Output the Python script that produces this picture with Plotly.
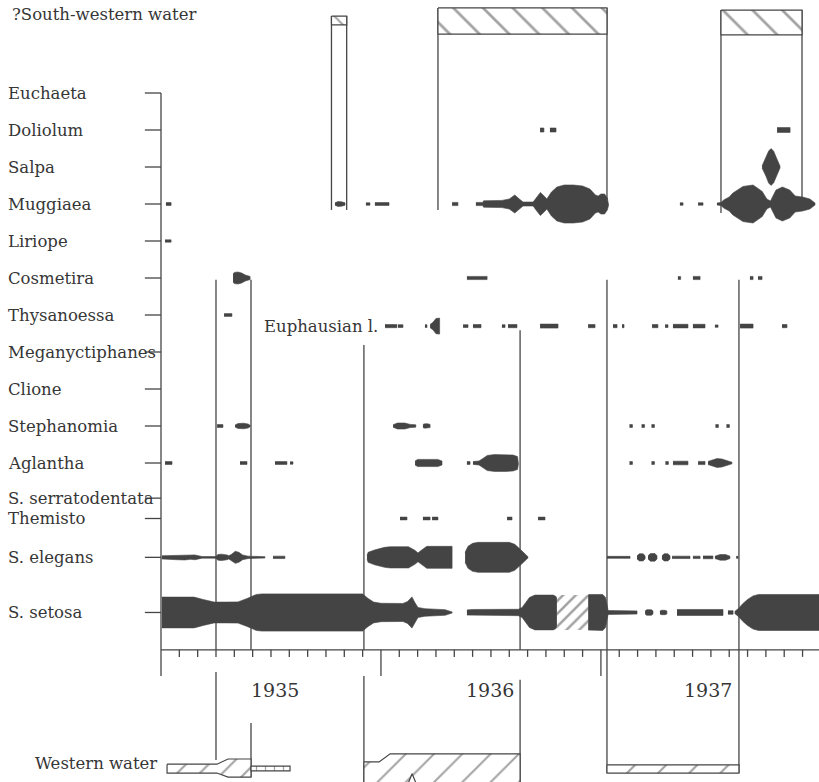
import plotly.graph_objects as go

# ---------------------------------------------------------------------------
# Time runs in months from 1 January 1935; rows are species positions.
# Kite half-widths are relative abundance units.
# ---------------------------------------------------------------------------
YEAR_LABELS = ["1935", "1936", "1937"]
YEAR_STARTS = [0, 12, 24]
MONTH_TICKS = list(range(0, 36))

SPECIES = ["Euchaeta", "Doliolum", "Salpa", "Muggiaea", "Liriope", "Cosmetira",
           "Thysanoessa", "Meganyctiphanes", "Clione", "Stephanomia", "Aglantha",
           "S. serratodentata", "Themisto", "S. elegans", "S. setosa"]
ROWS = [0, 1, 2, 3, 4, 5, 6, 7, 8, 9, 10, 10.95, 11.5, 12.55, 14.04]
EUPH_ROW = 6.3

# water-mass periods (months)
WEST_START = [3.0, 11.07, 24.33]
WEST_END = [4.91, 19.59, 31.53]
SW_START = [9.30, 15.11, 30.55]
SW_END = [10.13, 24.33, 34.97]

# --- abundance kites: time (months) / half-width, None marks a break ---
doliolum_t = [20.68, 20.89, None, 21.22, 21.55, None, 33.61, 34.32]
doliolum_v = [1.0, 1.0, None, 1.0, 1.0, None, 1.2, 1.2]

salpa_t = [32.79, 33.0, 33.15, 33.28, 33.42, 33.58, 33.77]
salpa_v = [0.5, 4.5, 8.0, 9.2, 8.0, 4.5, 0.5]

muggiaea_t = [0.27, 0.55, None, 9.49, 9.65, 9.85, 10.04, None, 11.18, 11.40, None,
              11.67, 12.44, None, 15.88, 16.20, None,
              17.18, 17.55, 17.6, 18.6, 19.0, 19.3, 19.55, 19.75, 20.3, 20.5, 20.7, 20.9,
              21.05, 21.3, 21.6, 22.0, 22.5, 23.0, 23.4, 23.7, 23.85, 24.0, 24.2, 24.35,
              24.42, None, 28.31, 28.48, None, 29.30, 29.57, None,
              30.33, 30.55, 30.7, 31.0, 31.2, 31.75, 32.3, 32.8, 33.05, 33.25, 33.55,
              33.9, 34.3, 34.6, 35.0, 35.4, 35.68]
muggiaea_v = [0.7, 0.7, None, 0.6, 1.2, 1.1, 0.6, None, 0.6, 0.6, None,
              0.7, 0.7, None, 0.8, 0.8, None,
              0.8, 0.8, 1.6, 1.8, 2.5, 4.5, 2.5, 1.0, 1.0, 3.5, 5.8, 4.0,
              2.5, 6.0, 8.5, 9.5, 9.5, 9.0, 7.5, 4.5, 4.0, 5.0, 5.0, 3.0,
              0.5, None, 0.6, 0.6, None, 0.6, 0.6, None,
              0.5, 0.8, 2.0, 3.5, 5.5, 8.8, 9.5, 6.3, 2.5, 1.5, 7.0,
              8.5, 7.0, 4.0, 3.5, 2.5, 0.5]

liriope_t = [0.22, 0.55]
liriope_v = [0.6, 0.6]

cosmetira_t = [3.93, 4.0, 4.2, 4.4, 4.6, 4.86, None, 16.69, 17.79, None,
               28.2, 28.35, None, 29.02, 29.41, None, 32.13, 32.3, None, 32.57, 32.79]
cosmetira_v = [2.0, 2.8, 3.0, 2.5, 1.5, 0.8, None, 0.8, 0.8, None,
               0.7, 0.7, None, 0.8, 0.8, None, 0.8, 0.8, None, 0.8, 0.8]

thysanoessa_t = [3.44, 3.87]
thysanoessa_v = [0.7, 0.7]

euphausian_t = [12.22, 12.87, None, 12.93, 13.2, None, 14.4, 14.51, None,
                14.68, 14.85, 15.0, 15.2, None, 16.48, 16.75, None, 17.02, 17.46, None,
                18.6, 18.77, None, 18.93, 19.42, None, 20.68, 21.66, None, 23.3, 23.68, None,
                24.66, 24.88, None, 25.15, 25.26, None, 26.79, 27.11, None, 27.5, 27.66, None,
                27.93, 28.75, None, 29.02, 29.68, None, 30.22, 30.39, None, 31.59, 32.3, None,
                33.88, 34.15]
euphausian_v = [0.8, 0.8, None, 0.7, 0.7, None, 0.7, 0.7, None,
                0.8, 2.0, 3.8, 4.0, None, 0.7, 0.7, None, 0.8, 0.8, None,
                0.7, 0.7, None, 0.8, 0.8, None, 1.0, 1.0, None, 0.8, 0.8, None,
                0.8, 0.8, None, 0.8, 0.8, None, 0.8, 0.8, None, 0.7, 0.7, None,
                0.9, 0.9, None, 0.9, 0.9, None, 0.6, 0.6, None, 1.0, 1.0, None,
                0.8, 0.8]

stephanomia_t = [3.06, 3.38, None, 4.04, 4.2, 4.5, 4.75, 4.86, None,
                 12.66, 12.9, 13.3, 13.6, 13.9, None, 14.29, 14.4, 14.55, 14.68, None,
                 25.56, 25.72, None, 26.22, 26.38, None, 26.76, 26.92, None,
                 30.25, 30.41, None, 30.85, 31.01]
stephanomia_v = [0.7, 0.7, None, 0.5, 1.2, 1.4, 1.0, 0.4, None,
                 0.6, 1.5, 1.5, 0.8, 0.6, None, 0.8, 1.1, 1.1, 0.8, None,
                 0.7, 0.7, None, 0.7, 0.7, None, 0.7, 0.7, None,
                 0.7, 0.7, None, 0.7, 0.7]

aglantha_t = [0.22, 0.6, None, 4.31, 4.69, None, 6.22, 6.87, None, 7.04, 7.2, None,
              13.86, 14.0, 15.1, 15.33, None, 16.69, 16.86, None,
              17.02, 17.35, 17.6, 17.8, 18.2, 18.8, 19.2, 19.45, 19.5, None,
              25.56, 25.72, None, 26.76, 26.92, None, 27.52, 27.68, None,
              27.93, 28.75, None, 29.3, 29.68, None,
              29.84, 30.1, 30.33, 30.6, 30.9, 31.15]
aglantha_v = [0.7, 0.7, None, 0.7, 0.7, None, 0.7, 0.7, None, 0.6, 0.6, None,
              1.0, 1.8, 1.8, 1.0, None, 0.7, 0.7, None,
              0.7, 1.0, 2.5, 3.8, 4.2, 4.2, 4.0, 3.2, 0.5, None,
              0.7, 0.7, None, 0.7, 0.7, None, 0.7, 0.7, None,
              0.9, 0.9, None, 0.8, 0.8, None,
              0.8, 1.5, 2.2, 2.0, 1.0, 0.4]

themisto_t = [13.04, 13.42, None, 14.29, 14.68, None, 14.79, 15.11, None,
              18.88, 19.15, None, 20.57, 20.95]
themisto_v = [0.7, 0.7, None, 0.7, 0.7, None, 0.7, 0.7, None,
              0.7, 0.7, None, 0.7, 0.7]

elegans_t = [0.05, 0.5, 0.9, 1.3, 1.6, 1.85, 2.24, 3.0, 3.1, 3.3, 3.6, 3.7, 3.85, 4.05,
             4.25, 4.45, 4.75, 5.67, None, 6.11, 6.76, None,
             11.24, 11.3, 11.65, 12.2, 12.5, 13.5, 13.85, 14.02, 14.2, 14.5, 15.88, None,
             16.59, 16.75, 17.0, 17.3, 19.0, 19.3, 19.6, 19.85, 20.02, None,
             24.33, 25.59, None, 25.97, 26.1, 26.3, 26.41, None,
             26.57, 26.7, 26.95, 27.06, None, 27.33, 27.45, 27.65, 27.77, None,
             27.88, 28.86, None, 29.02, 29.41, None, 29.57, 30.11, None,
             30.22, 30.5, 30.8, 31.04, None, 31.38, 31.48]
elegans_v = [0.8, 0.9, 1.2, 1.3, 1.0, 1.2, 0.4, 0.4, 1.4, 1.6, 1.2, 0.8, 1.5, 3.0,
             2.5, 1.2, 0.6, 0.35, None, 0.6, 0.6, None,
             1.0, 2.5, 3.7, 5.0, 5.3, 5.3, 3.5, 2.2, 3.5, 5.5, 5.5, None,
             2.5, 5.5, 7.0, 7.5, 7.5, 6.5, 4.0, 2.0, 0.3, None,
             0.5, 0.5, None, 0.8, 1.8, 1.8, 0.8, None,
             0.8, 1.9, 1.9, 0.8, None, 0.8, 1.8, 1.8, 0.8, None,
             0.6, 0.6, None, 0.6, 0.6, None, 0.7, 0.7, None,
             0.6, 1.4, 1.4, 0.6, None, 0.5, 0.5]

setosa_t = [0.05, 1.8, 2.3, 2.9, 3.5, 4.2, 4.7, 5.2, 5.5, 11.0, 11.3, 11.6, 12.0, 13.2,
            13.45, 13.69, 13.85, 14.02, 14.4, 15.5, 15.88, None,
            16.69, 17.0, 19.5, 19.7, 19.9, 20.1, 20.4, 21.4, 21.55, 21.6, None,
            23.3, 23.35, 24.1, 24.25, 24.33, 24.39, 25.97, None,
            26.41, 26.5, 26.75, 26.84, None, 27.22, 27.3, 27.5, 27.6, None,
            28.15, 30.66, None, 30.93, 31.21, None,
            31.3, 31.5, 31.75, 32.0, 32.3, 32.6, 35.9]
setosa_v = [7.7, 7.7, 6.5, 5.2, 5.2, 5.3, 7.0, 9.0, 9.3, 9.3, 7.0, 5.2, 4.6, 4.5,
            5.5, 7.8, 5.0, 2.5, 1.9, 1.4, 0.3, None,
            1.3, 1.5, 1.6, 2.5, 5.0, 7.5, 8.7, 8.7, 8.0, 7.0, None,
            8.8, 9.0, 9.0, 7.5, 4.0, 1.0, 0.8, None,
            0.8, 1.4, 1.4, 0.8, None, 0.7, 1.1, 1.1, 0.7, None,
            1.5, 1.5, None, 0.9, 0.9, None,
            0.5, 2.0, 4.5, 6.5, 8.3, 9.0, 9.0]

# unsorted (hatched) stretch of S. setosa
setosa_hatch_t = [21.6, 23.3]
setosa_hatch_v = [8.8, 8.8]

KITES = {
    "Doliolum": (doliolum_t, doliolum_v),
    "Salpa": (salpa_t, salpa_v),
    "Muggiaea": (muggiaea_t, muggiaea_v),
    "Liriope": (liriope_t, liriope_v),
    "Cosmetira": (cosmetira_t, cosmetira_v),
    "Thysanoessa": (thysanoessa_t, thysanoessa_v),
    "Stephanomia": (stephanomia_t, stephanomia_v),
    "Aglantha": (aglantha_t, aglantha_v),
    "Themisto": (themisto_t, themisto_v),
    "S. elegans": (elegans_t, elegans_v),
    "S. setosa": (setosa_t, setosa_v),
}

# ---------------------------------------------------------------------------
PX_PER_MONTH = 18.33
PX_PER_ROW = 37.0
W, H = 819, 782
X0_PX, Y0_PX = 161, 93            # pixel of month 0 / row 0
KITE_SCALE = 2.0 / PX_PER_ROW     # rows per abundance unit

INK = "#444444"
LINE = "#454545"
TEXT = "#363636"
FONT = "DejaVu Serif"

x_range = [-X0_PX / PX_PER_MONTH, (W - X0_PX) / PX_PER_MONTH]
y_range = [(H - Y0_PX) / PX_PER_ROW, -Y0_PX / PX_PER_ROW]


def kite_xy(t, v, row):
    xs, ys = [], []
    seg_t, seg_v = [], []
    for a, b in list(zip(t, v)) + [(None, None)]:
        if a is None:
            if seg_t:
                xs += seg_t + seg_t[::-1] + [None]
                ys += ([row - KITE_SCALE * q for q in seg_v]
                       + [row + KITE_SCALE * q for q in seg_v[::-1]] + [None])
            seg_t, seg_v = [], []
        else:
            seg_t.append(a)
            seg_v.append(b)
    return xs, ys


def lines_xy(segs):
    xs, ys = [], []
    for (xa, ya, xb, yb) in segs:
        xs += [xa, xb, None]
        ys += [ya, yb, None]
    return xs, ys


fig = go.Figure()

# kites
row_of = dict(zip(SPECIES, ROWS))
for name, (t, v) in KITES.items():
    xs, ys = kite_xy(t, v, row_of[name])
    fig.add_trace(go.Scatter(x=xs, y=ys, mode="lines", fill="toself",
                             fillcolor=INK, line=dict(color=INK, width=0.6),
                             hoverinfo="skip", showlegend=False))
xs, ys = kite_xy(euphausian_t, euphausian_v, EUPH_ROW)
fig.add_trace(go.Scatter(x=xs, y=ys, mode="lines", fill="toself", fillcolor=INK,
                         line=dict(color=INK, width=0.6), hoverinfo="skip",
                         showlegend=False))
xs, ys = kite_xy(setosa_hatch_t, setosa_hatch_v, row_of["S. setosa"])
fig.add_trace(go.Scatter(x=xs, y=ys, mode="lines", fill="toself", fillcolor="white",
                         fillpattern=dict(shape="/", size=9, solidity=0.28,
                                          fgcolor=INK, bgcolor="white"),
                         line=dict(width=0), hoverinfo="skip", showlegend=False))

# axes: time axis, species axis and their ticks
AXIS_Y = 15.05
segs = [(0, AXIS_Y, x_range[1], AXIS_Y), (0, 0, 0, 15.76)]
for r in ROWS:
    segs.append((-0.88, r, 0, r))
for m in MONTH_TICKS[1:]:
    segs.append((m, AXIS_Y, m, 15.76 if m in YEAR_STARTS else 15.24))
# western-water boundaries above and below the time axis
west_bounds = [WEST_START[0], WEST_END[0], WEST_START[1], WEST_END[1],
               WEST_START[2], WEST_END[2]]
upper_top = [5.05, 5.05, 6.81, 6.41, 5.05, 5.05]
lower_span = [(15.65, 18.03), (17.03, 18.49), (15.76, 18.7), (15.86, 18.7),
              (AXIS_Y, 18.38), (AXIS_Y, 18.38)]
for b, top, (lo0, lo1) in zip(west_bounds, upper_top, lower_span):
    segs.append((b, top, b, AXIS_Y))
    segs.append((b, lo0, b, lo1))
# south-western water boxes: side walls
sw_top = [-2.08, -2.30, -2.24]
sw_band = [-1.84, -1.59, -1.57]
sw_left_bottom = [3.16, 3.16, 3.24]
sw_right_bottom = [3.16, 2.89, 2.89]
for s, e, tp, lb, rb in zip(SW_START, SW_END, sw_top, sw_left_bottom, sw_right_bottom):
    segs.append((s, tp, s, lb))
    segs.append((e, tp, e, rb))
xs, ys = lines_xy(segs)
fig.add_trace(go.Scatter(x=xs, y=ys, mode="lines", line=dict(color=LINE, width=1.3),
                         hoverinfo="skip", showlegend=False))


def hatched(xs, ys, shape, size, solidity=0.13):
    fig.add_trace(go.Scatter(x=xs, y=ys, mode="lines", fill="toself", fillcolor="white",
                             fillpattern=dict(shape=shape, size=size, solidity=solidity,
                                              fgcolor=LINE, bgcolor="white"),
                             line=dict(color=LINE, width=1.2), hoverinfo="skip",
                             showlegend=False))


# south-western water hatched caps
for s, e, tp, bd, sz in zip(SW_START, SW_END, sw_top, sw_band, [15, 21, 21]):
    hatched([s, e, e, s, s], [tp, tp, bd, bd, tp], "\\", sz)

# western water band along the bottom
hatched([0.33, 3.05, 3.66, 4.91, 4.91, 3.66, 3.05, 0.33, 0.33],
        [18.14, 18.14, 18.0, 18.0, 18.49, 18.49, 18.38, 18.38, 18.14], "/", 16)
hatched([4.91, 7.04, 7.04, 4.91, 4.91], [18.19, 18.19, 18.32, 18.32, 18.19], "|", 9, 0.14)
hatched([11.07, 11.9, 12.5, 19.59, 19.59, 13.95, 13.7, 13.45, 11.07, 11.07],
        [18.08, 18.08, 17.86, 17.86, 18.7, 18.7, 18.4, 18.7, 18.7, 18.08], "/", 20, 0.1)
hatched([24.33, 31.53, 31.53, 24.33, 24.33], [18.16, 18.16, 18.38, 18.38, 18.16], "/", 22, 0.1)

# text
ann = []
for name, r in zip(SPECIES, ROWS):
    ann.append(dict(x=6 / W, xref="paper", y=r, yref="y", text=name, xanchor="left",
                    yanchor="middle", showarrow=False,
                    font=dict(family=FONT, size=16.5, color=TEXT)))
ann.append(dict(x=10 / W, xref="paper", y=-2.11, yref="y", text="?South-western water",
                xanchor="left", yanchor="middle", showarrow=False,
                font=dict(family=FONT, size=16.5, color=TEXT)))
ann.append(dict(x=11.95, xref="x", y=EUPH_ROW, yref="y", text="Euphausian l.",
                xanchor="right", yanchor="middle", showarrow=False,
                font=dict(family=FONT, size=16.5, color=TEXT)))
ann.append(dict(x=159 / W, xref="paper", y=18.12, yref="y", text="Western water",
                xanchor="right", yanchor="middle", showarrow=False,
                font=dict(family=FONT, size=16.5, color=TEXT)))
year_pos = [(6.2, "center"), (19.35, "right"), (31.25, "right")]
for lab, (xp, anc) in zip(YEAR_LABELS, year_pos):
    ann.append(dict(x=xp, xref="x", y=16.14, yref="y", text=lab, xanchor=anc,
                    yanchor="middle", showarrow=False,
                    font=dict(family=FONT, size=19, color=TEXT)))

fig.update_layout(
    width=W, height=H, margin=dict(l=0, r=0, t=0, b=0),
    paper_bgcolor="white", plot_bgcolor="white",
    xaxis=dict(range=x_range, visible=False, fixedrange=True),
    yaxis=dict(range=y_range, visible=False, fixedrange=True),
    annotations=ann, showlegend=False,
)

fig.write_html("out.html")
